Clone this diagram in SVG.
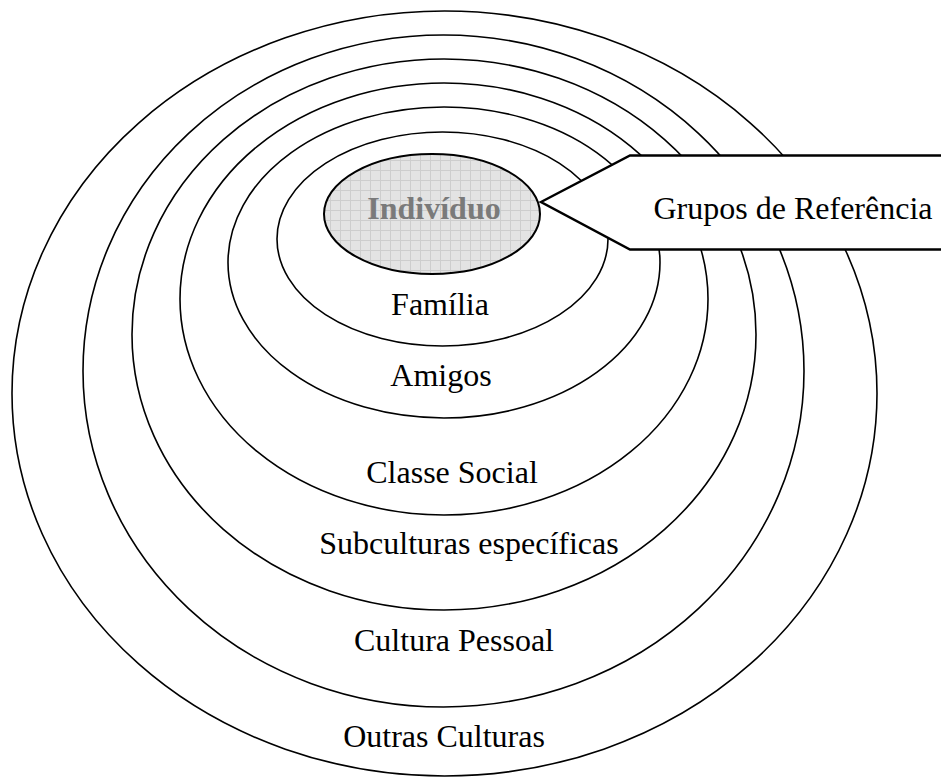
<svg xmlns="http://www.w3.org/2000/svg" width="941" height="778" viewBox="0 0 941 778">
<style>
.ring{fill:none;stroke:#000;stroke-width:1.6}
.lbl{font-family:"Liberation Serif","Times New Roman",serif;font-size:32px;fill:#000;text-anchor:middle}
.core{font-family:"Liberation Serif","Times New Roman",serif;font-size:32px;font-weight:bold;fill:#7a7a7a;text-anchor:middle}
</style>
<defs>
<pattern id="grid" width="10" height="10" patternUnits="userSpaceOnUse">
<rect width="10" height="10" fill="#e3e3e3"/>
<path d="M0 0.5H10M0.5 0V10" stroke="#cdcdcd" stroke-width="1" fill="none"/>
</pattern>
</defs>
<rect width="941" height="778" fill="#fff"/>
<g id="outras-culturas">
<ellipse class="ring" cx="444.5" cy="393.5" rx="432.5" ry="382.5"/>
<text class="lbl" x="444" y="747">Outras Culturas</text>
</g>
<g id="cultura-pessoal">
<ellipse class="ring" cx="443.5" cy="371" rx="360.5" ry="336"/>
<text class="lbl" x="454" y="651">Cultura Pessoal</text>
</g>
<g id="subculturas">
<ellipse class="ring" cx="444" cy="334.5" rx="312" ry="275.5"/>
<text class="lbl" x="469" y="554">Subculturas específicas</text>
</g>
<g id="classe-social">
<ellipse class="ring" cx="444" cy="299" rx="264" ry="216"/>
<text class="lbl" x="452" y="483">Classe Social</text>
</g>
<g id="amigos">
<ellipse class="ring" cx="444" cy="262.5" rx="216" ry="155.5"/>
<text class="lbl" x="441" y="386">Amigos</text>
</g>
<g id="familia">
<ellipse class="ring" cx="442.5" cy="239" rx="165.5" ry="107"/>
<text class="lbl" x="440" y="315">Família</text>
</g>
<g id="grupos-de-referencia">
<polygon points="541,202 630,155.5 950,155.5 950,249.5 630,249.5" fill="#fff" stroke="#000" stroke-width="2.5" stroke-linejoin="miter"/>
<text class="lbl" x="793" y="219">Grupos de Referência</text>
</g>
<g id="individuo">
<ellipse cx="432" cy="214" rx="108" ry="60" fill="url(#grid)" stroke="#000" stroke-width="2"/>
<text class="core" x="434" y="219">Indivíduo</text>
</g>
<g id="connectors"></g>
</svg>
